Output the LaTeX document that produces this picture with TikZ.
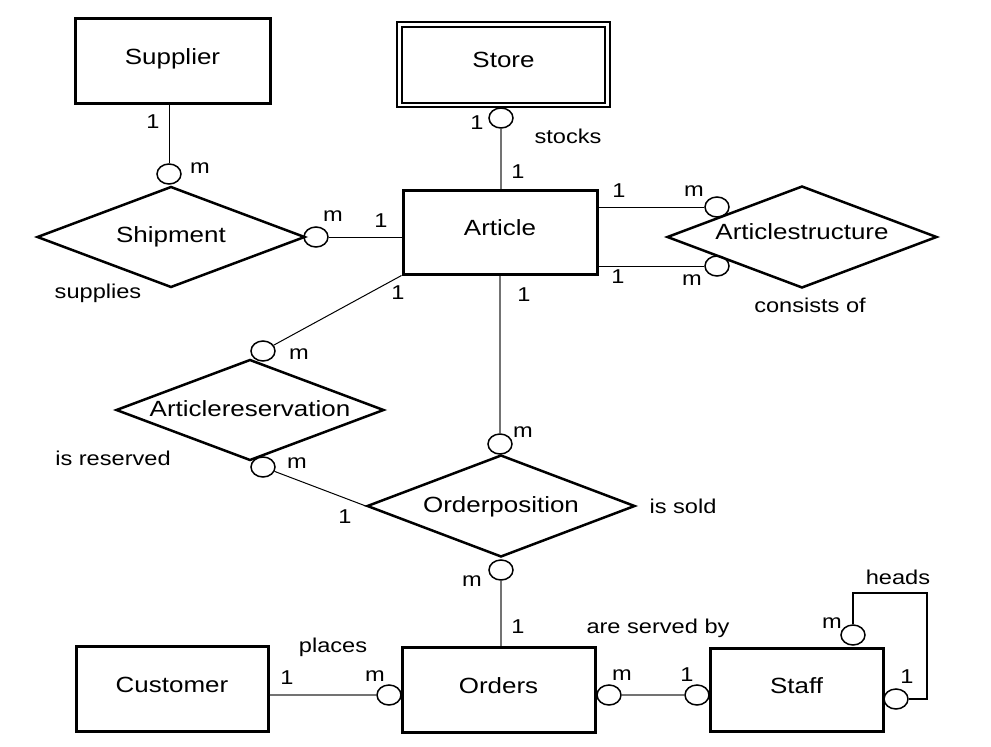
\documentclass[tikz,border=0pt]{standalone}
\usepackage{fontspec}
\setmainfont{Liberation Sans}[FakeStretch=1.18]
\usetikzlibrary{shapes.geometric}
\begin{document}
\begin{tikzpicture}[x=1pt,y=-1pt,
  ent/.style={draw,line width=3pt,rectangle,inner sep=0pt,font=\fontsize{22}{26}\selectfont,text depth=8pt},
  rel/.style={draw,line width=2.5pt,diamond,inner sep=0pt},
  reltext/.style={font=\fontsize{22}{26}\selectfont,inner sep=0pt},
  card/.style={draw,line width=1.5pt,ellipse,inner sep=0pt,minimum width=24pt,minimum height=20pt},
  lab/.style={font=\fontsize{20}{24}\selectfont,inner sep=0pt},
  conn/.style={draw,line width=1pt,black},
  connG/.style={draw,line width=1.4pt,black!55}]
\useasboundingbox[fill=white] (0,0) rectangle (991,747);

% entities
\node[ent,minimum width=195pt,minimum height=85pt] (sup) at (172.5,60.5) {Supplier};
\node[draw,line width=2pt,rectangle,inner sep=0pt,minimum width=213pt,minimum height=85pt] (store) at (503.5,64.5) {};
\node[draw,line width=2pt,rectangle,inner sep=0pt,minimum width=203pt,minimum height=76pt] (storein) at (503.5,65) {};
\node[reltext] (storetxt) at (503.5,60) {Store};
\node[ent,minimum width=194pt,minimum height=84pt] (art) at (500,232) {Article};
\node[ent,minimum width=192pt,minimum height=85pt] (cus) at (172,688.5) {Customer};
\node[ent,minimum width=193pt,minimum height=85pt] (ord) at (498.5,689.5) {Orders};
\node[ent,minimum width=173pt,minimum height=83pt] (stf) at (796.5,689.5) {Staff};

% relationships
\node[rel,minimum width=268pt,minimum height=101pt] (shp) at (171,237) {};
\node[reltext] at (171,237) {Shipment};
\node[rel,minimum width=270pt,minimum height=102pt] (ast) at (802,237) {};
\node[reltext] at (802,232) {Articlestructure};
\node[rel,minimum width=268pt,minimum height=101pt] (ars) at (250,410) {};
\node[reltext] at (250,409) {Articlereservation};
\node[rel,minimum width=268pt,minimum height=102pt] (op) at (501,506) {};
\node[reltext] at (501,507) {Orderposition};

% cardinality circles
\node[card] (c1) at (169,174) {};
\node[card] (c2) at (316,237) {};
\node[card] (c3) at (501,118) {};
\node[card] (c4a) at (717,207) {};
\node[card] (c4b) at (717,266) {};
\node[card] (c5) at (263,351) {};
\node[card] (c6) at (263,467) {};
\node[card] (c7) at (500,444) {};
\node[card] (c8) at (501,570) {};
\node[card] (c9) at (389,695) {};
\node[card] (c10) at (609,695) {};
\node[card] (c11) at (697,695) {};
\node[card] (c12) at (853,635) {};
\node[card] (c13) at (896,699) {};
\coordinate (hd) at (927,593);

% connectors
\draw[conn] (c1.north) -- (c1 |- sup.south);
\draw[conn] (c2.east) -- (art.west |- c2);
\draw[connG] (c3.south) -- (c3 |- art.north);
\draw[conn] (art.east |- c4a) -- (c4a.west);
\draw[conn] (art.east |- c4b) -- (c4b.west);
\draw[conn] (c5) -- (art.south west);
\draw[conn] (c6) -- (op.west);
\draw[connG] (c7.north) -- (c7 |- art.south);
\draw[connG] (c8.south) -- (c8 |- ord.north);
\draw[connG] (cus.east |- c9) -- (c9.west);
\draw[connG] (c10.east) -- (c11.west);
\draw[line width=2pt] (c12.north) |- (hd) |- (c13.east);

% labels
\node[lab] at (153,122) {1};
\node[lab] at (200,168) {m};
\node[lab] at (98,293) {supplies};
\node[lab] at (333,216) {m};
\node[lab] at (381,221) {1};
\node[lab] at (477,123) {1};
\node[lab] at (568,136) {stocks};
\node[lab] at (518,172) {1};
\node[lab] at (619,191) {1};
\node[lab] at (694,191) {m};
\node[lab] at (618,277) {1};
\node[lab] at (692,280) {m};
\node[lab] at (810,305) {consists of};
\node[lab] at (398,293) {1};
\node[lab] at (299,354) {m};
\node[lab] at (113,458) {is reserved};
\node[lab] at (297,463) {m};
\node[lab] at (345,517) {1};
\node[lab] at (524,295) {1};
\node[lab] at (523,432) {m};
\node[lab] at (683,506) {is sold};
\node[lab] at (472,581) {m};
\node[lab] at (518,627) {1};
\node[lab] at (333,647) {places};
\node[lab] at (287,678) {1};
\node[lab] at (375,676) {m};
\node[lab] at (658,628) {are served by};
\node[lab] at (622,675) {m};
\node[lab] at (687,675) {1};
\node[lab] at (898,577) {heads};
\node[lab] at (832,623) {m};
\node[lab] at (907,677) {1};
\end{tikzpicture}
\end{document}
